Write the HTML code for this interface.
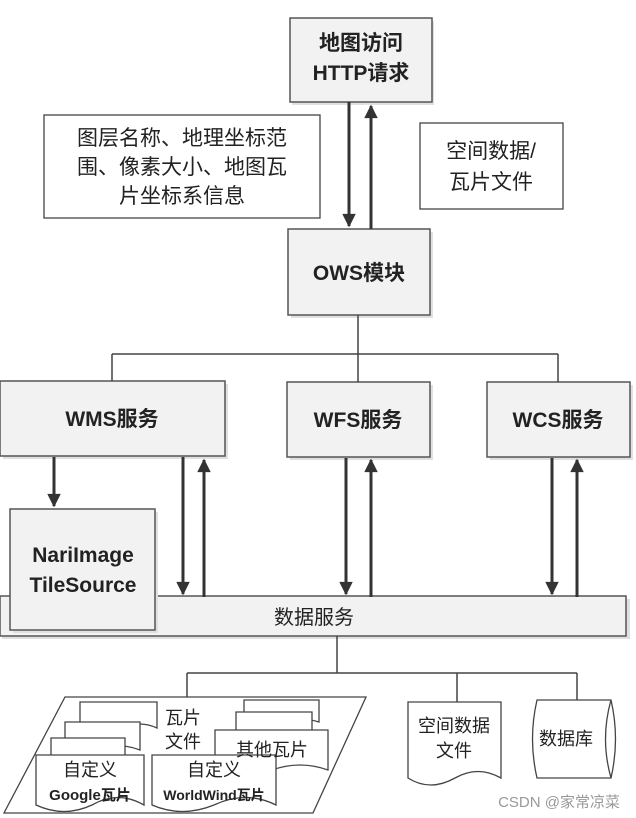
<!DOCTYPE html>
<html><head><meta charset="utf-8"><style>
html,body{margin:0;padding:0;background:#fff}
svg{display:block}
text{font-family:"Liberation Sans","Noto Sans CJK SC",sans-serif;fill:#222}
.b{font-weight:bold;font-size:21px}
.n{font-size:20px}
</style></head><body>
<svg width="636" height="818" viewBox="0 0 636 818">
<defs>
<marker id="ah" viewBox="0 0 10 10" refX="9" refY="5" markerWidth="5.5" markerHeight="4.5" orient="auto"><path d="M0,0 L10,5 L0,10 z" fill="#333"/></marker>
</defs>
<g stroke="#555" stroke-width="1.5" fill="#f2f2f2">
<rect x="292" y="21" width="142" height="84" fill="#e0e0e0" stroke="none"/>
<rect x="290" y="18" width="142" height="84"/>
<rect x="291" y="232" width="142" height="86" fill="#e0e0e0" stroke="none"/>
<rect x="288" y="229" width="142" height="86"/>
<rect x="3" y="384" width="225" height="75" fill="#e0e0e0" stroke="none"/>
<rect x="0" y="381" width="225" height="75"/>
<rect x="290" y="385" width="143" height="75" fill="#e0e0e0" stroke="none"/>
<rect x="287" y="382" width="143" height="75"/>
<rect x="490" y="385" width="143" height="75" fill="#e0e0e0" stroke="none"/>
<rect x="487" y="382" width="143" height="75"/>
<rect x="2" y="599" width="628" height="40" fill="#e0e0e0" stroke="none"/>
<rect x="0" y="596" width="626" height="40"/>
<rect x="13" y="512" width="145" height="121" fill="#e0e0e0" stroke="none"/>
<rect x="10" y="509" width="145" height="121"/>
</g>
<g stroke="#444" stroke-width="1.3" fill="#fff">
<rect x="44" y="115" width="276" height="103"/>
<rect x="420" y="123" width="143" height="86"/>
</g>
<g stroke="#444" stroke-width="1.5" fill="none">
<path d="M358 315 V354 M112 354 H558 M112 354 V381 M358 354 V382 M558 354 V382"/>
<path d="M337 636 V673 M187 673 H577 M187 673 V697 M457 673 V702 M577 673 V700"/>
</g>
<g stroke="#333" stroke-width="3" fill="none" marker-end="url(#ah)">
<path d="M349 102 V226"/><path d="M371 229 V106"/>
<path d="M54 457 V506"/>
<path d="M183 457 V594"/><path d="M204 597 V460"/>
<path d="M346 458 V594"/><path d="M371 597 V460"/>
<path d="M552 458 V594"/><path d="M577 597 V460"/>
</g>
<text class="b" x="361" y="50" text-anchor="middle">地图访问</text>
<text class="b" x="361" y="80" text-anchor="middle">HTTP请求</text>
<text class="n" x="182" y="145" text-anchor="middle" style="font-size:21px">图层名称、地理坐标范</text>
<text class="n" x="182" y="174" text-anchor="middle" style="font-size:21px">围、像素大小、地图瓦</text>
<text class="n" x="182" y="203" text-anchor="middle" style="font-size:21px">片坐标系信息</text>
<text class="n" x="491" y="158" text-anchor="middle" style="font-size:21px">空间数据/</text>
<text class="n" x="491" y="189" text-anchor="middle" style="font-size:21px">瓦片文件</text>
<text class="b" x="359" y="280" text-anchor="middle">OWS模块</text>
<text class="b" x="112" y="426" text-anchor="middle">WMS服务</text>
<text class="b" x="358" y="427" text-anchor="middle">WFS服务</text>
<text class="b" x="558" y="427" text-anchor="middle">WCS服务</text>
<text class="b" x="83" y="562" text-anchor="middle">NariImage</text>
<text class="b" x="83" y="592" text-anchor="middle">TileSource</text>
<text class="n" x="314" y="624" text-anchor="middle">数据服务</text>
<g stroke="#444" stroke-width="1.3">
<path d="M65 697 H366 L313 813 H4 Z" fill="#fff"/>
<g fill="#fff">
<path d="M80 702 H157 V728 Q140 720 120 728 Q100 736 80 728 Z"/>
<path d="M65 722 H140 V750 Q120 742 100 750 Q82 756 65 750 Z"/>
<path d="M51 738 H125 V762 Q105 754 88 762 Q70 768 51 762 Z"/>
<path d="M244 700 H319 V722 Q300 716 280 722 Q262 728 244 722 Z"/>
<path d="M236 712 H312 V736 Q292 730 272 736 Q254 742 236 736 Z"/>
<path d="M215 730 H328 V770 Q300 760 272 770 Q244 778 215 770 Z"/>
<path d="M36 755 H144 V805 Q118 790 92 805 Q64 818 36 805 Z"/>
<path d="M152 755 H276 V805 Q246 790 214 805 Q182 818 152 805 Z"/>
<path d="M408 702 H501 V778 Q478 765 455 778 Q430 792 408 778 Z"/>
<path d="M537 700 H611 Q620 739 611 778 H537 Q528 739 537 700 Z"/>
</g>
<path d="M611 700 Q600 739 611 778" fill="none"/>
</g>
<text x="183" y="724" text-anchor="middle" style="font-size:18px">瓦片</text>
<text x="183" y="748" text-anchor="middle" style="font-size:18px">文件</text>
<text x="272" y="756" text-anchor="middle" style="font-size:18px">其他瓦片</text>
<text x="90" y="776" text-anchor="middle" style="font-size:18px">自定义</text>
<text x="90" y="800" text-anchor="middle" style="font-size:15px;font-weight:bold">Google瓦片</text>
<text x="214" y="776" text-anchor="middle" style="font-size:18px">自定义</text>
<text x="214" y="800" text-anchor="middle" style="font-size:14px;font-weight:bold">WorldWind瓦片</text>
<text x="454" y="732" text-anchor="middle" style="font-size:18px">空间数据</text>
<text x="454" y="757" text-anchor="middle" style="font-size:18px">文件</text>
<text x="566" y="745" text-anchor="middle" style="font-size:18px">数据库</text>
<text x="620" y="807" text-anchor="end" style="font-size:15px;fill:#999">CSDN @家常凉菜</text>
</svg>
</body></html>
